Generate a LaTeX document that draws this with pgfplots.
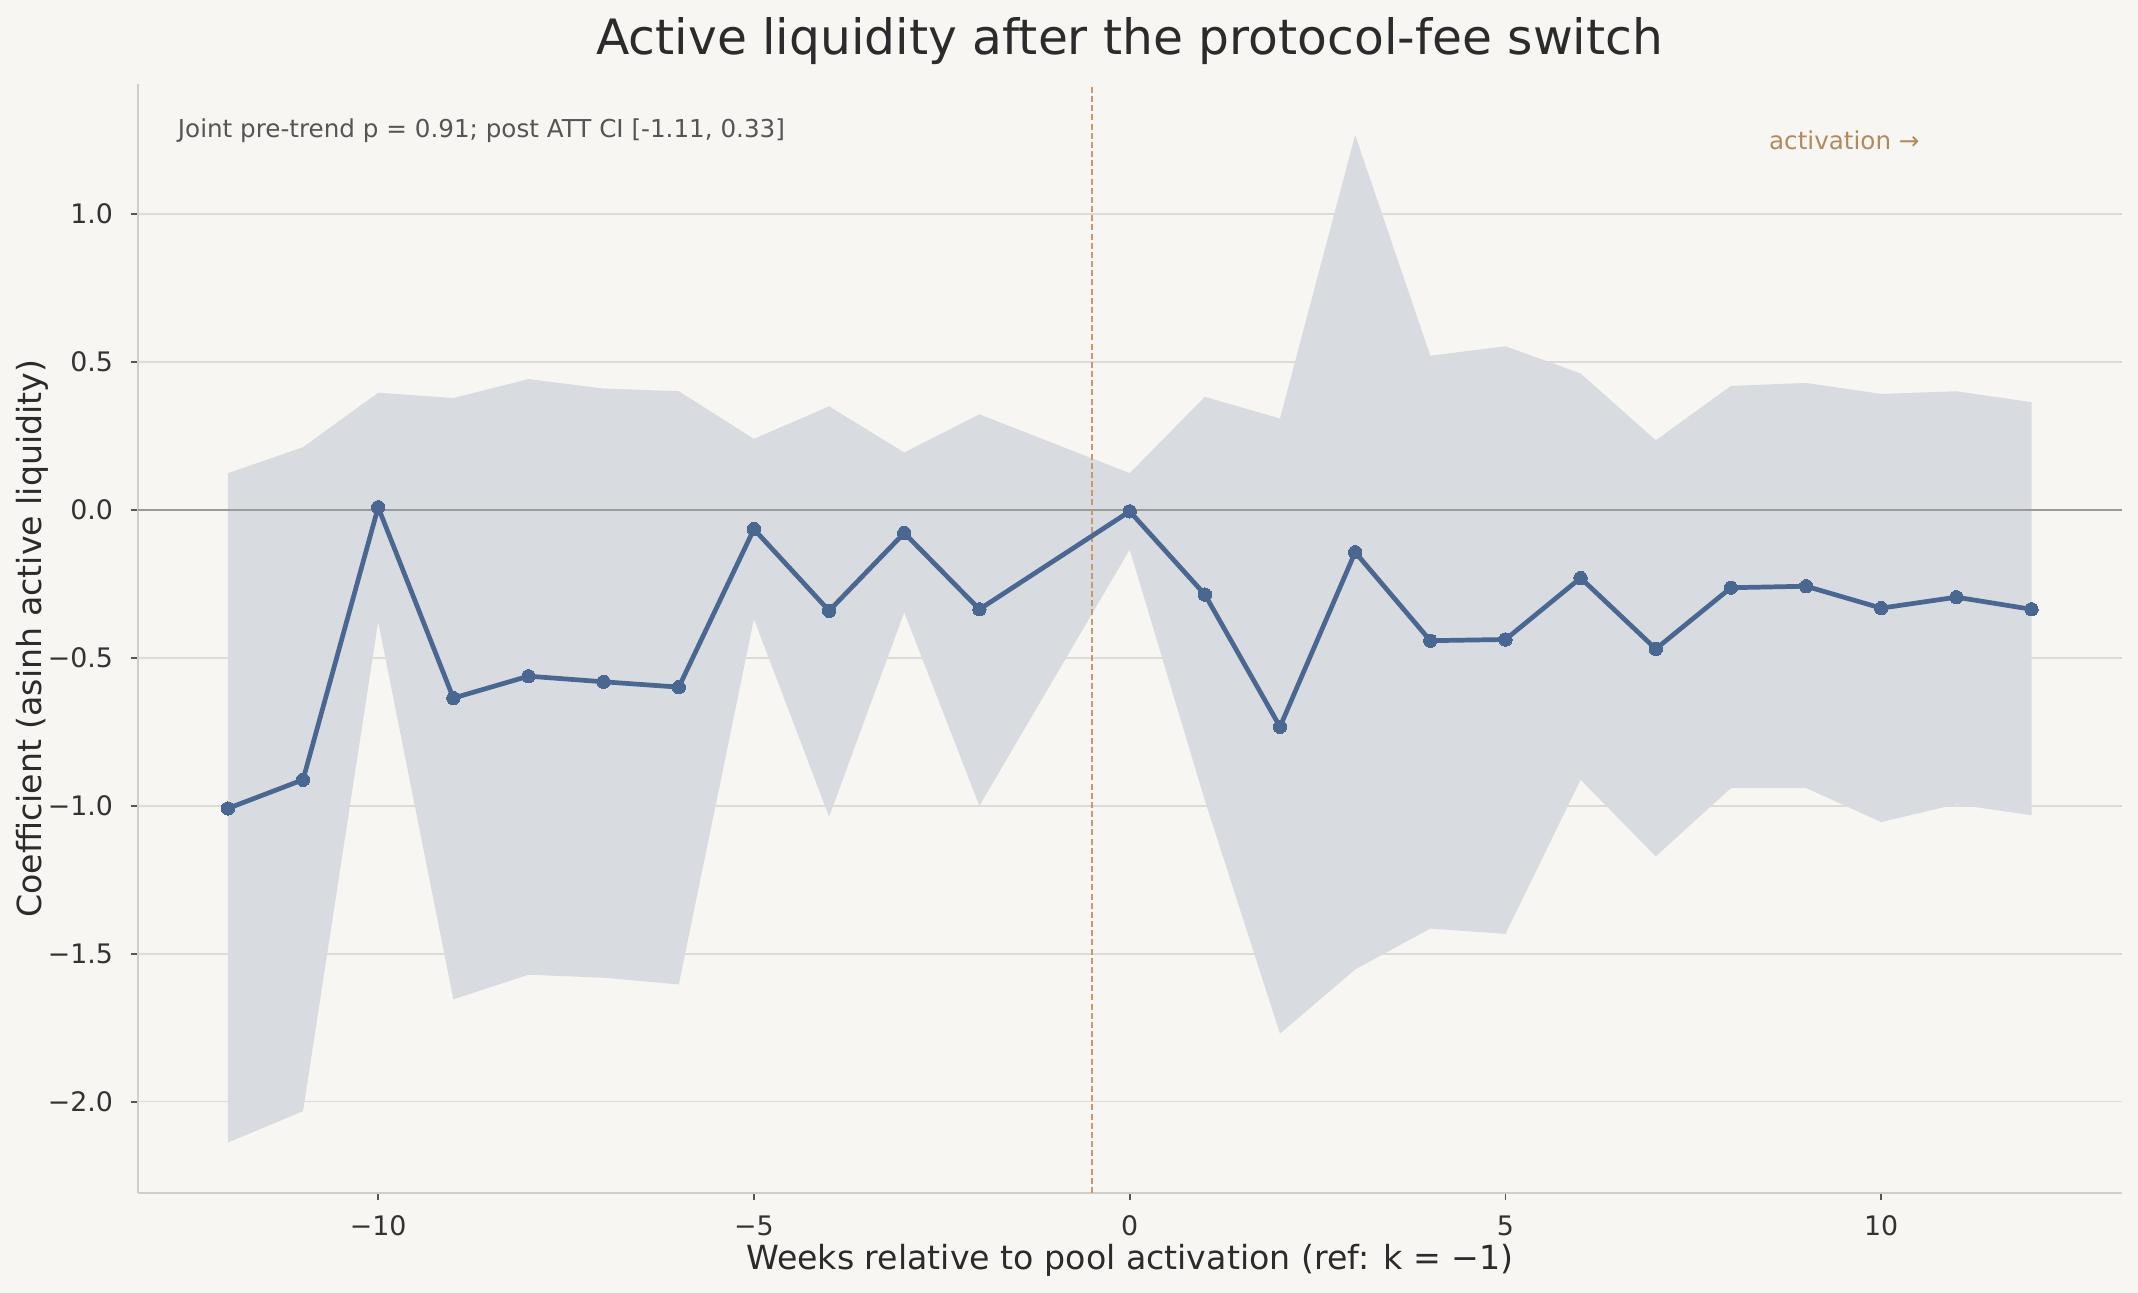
\documentclass[border=0pt]{standalone}
\usepackage{pgfplots}
\pgfplotsset{compat=1.18}
\usepackage{pgfplotstable}
\usepackage{fontspec}
\setmainfont{DejaVu Sans}
\definecolor{bg}{HTML}{F7F6F3}
\definecolor{band}{HTML}{D8DBE0}
\definecolor{linec}{HTML}{4A6791}
\definecolor{gridc}{HTML}{DDDBD7}
\definecolor{zeroc}{HTML}{9A9A9A}
\definecolor{vlinec}{HTML}{C8996A}
\definecolor{actc}{HTML}{B38A5A}
\definecolor{annc}{HTML}{555555}
\definecolor{titlec}{HTML}{2B2B2B}
\definecolor{spinec}{HTML}{D0CECA}
\definecolor{tickc}{HTML}{555555}
\definecolor{ticklab}{HTML}{333333}

\pgfplotstableread{
k coef lo hi
-12 -1.009 -2.138 0.124
-11 -0.912 -2.032 0.212
-10 0.009 -0.378 0.396
-9 -0.636 -1.654 0.378
-8 -0.562 -1.571 0.442
-7 -0.581 -1.581 0.410
-6 -0.599 -1.604 0.401
-5 -0.065 -0.369 0.240
-4 -0.341 -1.037 0.350
-3 -0.078 -0.346 0.194
-2 -0.336 -1.000 0.323
0 -0.005 -0.134 0.124
1 -0.286 -0.982 0.382
2 -0.733 -1.770 0.309
3 -0.143 -1.553 1.267
4 -0.442 -1.415 0.521
5 -0.438 -1.433 0.553
6 -0.230 -0.912 0.461
7 -0.470 -1.171 0.235
8 -0.263 -0.940 0.419
9 -0.258 -0.940 0.429
10 -0.332 -1.055 0.392
11 -0.295 -0.995 0.401
12 -0.336 -1.032 0.364
}\es

\begin{document}
\begin{tikzpicture}
\fill[bg] (0,0) rectangle (769.68bp,465.48bp);
\path[use as bounding box] (0,0) rectangle (769.68bp,465.48bp);
\begin{axis}[
  at={(49.57bp,36bp)}, anchor=south west,
  scale only axis, width=714.24bp, height=399.06bp,
  xmin=-13.2, xmax=13.2, ymin=-2.3086, ymax=1.4377,
  axis x line*=bottom, axis y line*=left,
  axis line style={-, draw=spinec, line width=0.7bp},
  tick align=outside, major tick length=2.5bp,
  tick style={draw=tickc, line width=0.6bp},
  xtick={-10,-5,0,5,10}, xticklabels={−10,−5,0,5,10},
  ytick={-2,-1.5,-1,-0.5,0,0.5,1},
  yticklabels={−2.0,−1.5,−1.0,−0.5,0.0,0.5,1.0},
  ymajorgrids, grid style={draw=gridc, line width=0.55bp},
  ticklabel style={font=\fontsize{9.7}{11}\selectfont, text=ticklab},
  xticklabel style={anchor=base, yshift=-12.96bp, inner sep=0pt},
  yticklabel style={anchor=east, xshift=-6.2bp, inner sep=0pt},
  clip=false,
]
% confidence band: upper bound left to right, then lower bound right to left
\addplot[fill=band, draw=none] coordinates {
(-12,0.124) (-11,0.212) (-10,0.396) (-9,0.378) (-8,0.442) (-7,0.410) (-6,0.401)
(-5,0.240) (-4,0.350) (-3,0.194) (-2,0.323) (0,0.124) (1,0.382) (2,0.309)
(3,1.267) (4,0.521) (5,0.553) (6,0.461) (7,0.235) (8,0.419) (9,0.429)
(10,0.392) (11,0.401) (12,0.364)
(12,-1.032) (11,-0.995) (10,-1.055) (9,-0.940) (8,-0.940) (7,-1.171) (6,-0.912)
(5,-1.433) (4,-1.415) (3,-1.553) (2,-1.770) (1,-0.982) (0,-0.134) (-2,-1.000)
(-3,-0.346) (-4,-1.037) (-5,-0.369) (-6,-1.604) (-7,-1.581) (-8,-1.571)
(-9,-1.654) (-10,-0.378) (-11,-2.032) (-12,-2.138)
} --cycle;
\addplot[zeroc, line width=0.75bp] coordinates {(-13.2,0) (13.2,0)};
\addplot[vlinec, line width=0.8bp, dash pattern=on 2.2bp off 1.1bp] coordinates {(-0.5,-2.3086) (-0.5,1.4377)};
\addplot[linec, line width=1.7bp, mark=*, mark size=2.4bp, mark options={fill=linec, draw=linec, line width=0pt}] table[x=k,y=coef]{\es};

\node[anchor=base, text=titlec, font=\fontsize{17.6}{21}\selectfont] at (axis description cs:0.5,1.0266) {Active liquidity after the protocol-fee switch};
\node[anchor=base, text=titlec, font=\fontsize{12}{15}\selectfont] at (axis description cs:0.5,-0.0686) {Weeks relative to pool activation (ref: k = −1)};
\node[anchor=base, rotate=90, text=titlec, font=\fontsize{12}{15}\selectfont] at (axis description cs:-0.0484,0.5) {Coefficient (asinh active liquidity)};
\node[anchor=base west, text=annc, font=\fontsize{8.9}{11}\selectfont, inner sep=0pt] at (axis description cs:0.02,0.9524) {Joint pre-trend p = 0.91; post ATT CI [-1.11, 0.33]};
\node[anchor=base west, text=actc, font=\fontsize{8.9}{11}\selectfont, inner sep=0pt] at (axis description cs:0.822,0.9415) {activation →};
\end{axis}
\end{tikzpicture}
\end{document}
